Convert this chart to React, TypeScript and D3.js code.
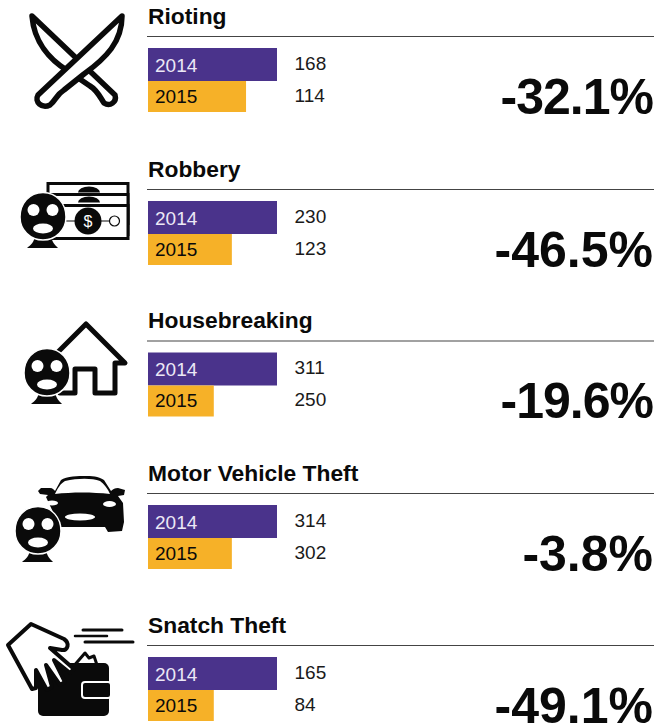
import React from "react";
import * as d3 from "d3";

const categories = ["Rioting", "Robbery", "Housebreaking", "Motor Vehicle Theft", "Snatch Theft"];
const years = ["2014", "2015"];
const values2014 = [168, 230, 311, 314, 165];
const values2015 = [114, 123, 250, 302, 84];
// The reference's bars are not drawn proportionally to their labels: lengths, in percent of the 2014 bar.
const barLength2014 = [100, 100, 100, 100, 100];
const barLength2015 = [76, 65, 51, 65, 51];
const changes = ["-32.1%", "-46.5%", "-19.6%", "-3.8%", "-49.1%"];
const ruleYs = [36.5, 189.5, 341, 493.5, 645.5];
const changeTracking = [-1, 0, -1, 0, 0];

const PURPLE = "#4a338b";
const ORANGE = "#f6b128";
const INK = "#0a0a0a";
const FONT = "'Liberation Sans', Arial, sans-serif";

const Mask = ({ x, y }: { x: number; y: number }) => (
  <g transform={`translate(${x},${y})`}>
    <path d="M-16,32 C-12,29 -9,26 -8,20 L8,20 C9,26 12,29 15,32 Z" fill={INK} />
    <path d="M0,-23.5 C14,-23.5 23,-12 23,1 C23,14 13,24 0,24 C-13,24 -23,14 -23,1 C-23,-12 -14,-23.5 0,-23.5 Z" fill={INK} stroke="#fff" strokeWidth={1.5} />
    <circle cx={-9.5} cy={-6} r={6} fill="#fff" />
    <circle cx={9.5} cy={-6} r={6} fill="#fff" />
    <ellipse cx={0} cy={12.5} rx={10} ry={5} fill="#fff" />
  </g>
);

const Knives = () => (
  <g fill="#fff" stroke={INK} strokeWidth={5.5} strokeLinejoin="round" strokeLinecap="round">
    <path d="M32,16 L115,95 C117,102 110,107 104,103 C100,97 97,90 90,86 L68,71 C50,60 34,42 32,16 Z" />
    <path d="M122,16 L38,95 C34,102 42,109 50,105 C56,100 56,95 64,90 L84,74 C106,58 122,42 122,16 Z" />
  </g>
);

const Money = () => (
  <g>
    <g fill="#fff" stroke={INK} strokeWidth={3}>
      <rect x={48} y={183.5} width={80} height={40} />
      <rect x={48} y={194.5} width={80} height={40} />
      <rect x={48} y={205.5} width={80} height={33} />
    </g>
    <path d="M78,192.5 A11,6 0 0 1 100,192.5 Z M78,202.5 A11,6 0 0 1 100,202.5 Z" fill={INK} />
    <line x1={60} x2={110} y1={221} y2={221} stroke={INK} strokeWidth={1.2} />
    <circle cx={88} cy={221} r={13.5} fill={INK} />
    <circle cx={114.5} cy={221} r={5} fill="#fff" stroke={INK} strokeWidth={1.2} />
    <text x={88} y={227} textAnchor="middle" fontSize={16} fontFamily={FONT} fill="#fff">$</text>
    <Mask x={43} y={216} />
  </g>
);

const House = () => (
  <g>
    <path d="M58,352 L86,324 L125,363 L115,363 L115,393 L95,393 L95,369 L75,369 L75,393 L60,393"
      fill="#fff" stroke={INK} strokeWidth={5} strokeLinejoin="round" strokeLinecap="round" />
    <Mask x={47} y={372} />
  </g>
);

const Car = () => (
  <g>
    <path d="M41,488 L50,488 C53,488 54,490 55,491 L61,480 C66,476 80,476 84,476 C92,476 98,476 104,480 L111,491 C113,489 115,488 118,488 L125,490 L124,495 L118,496 L123,503 L124,522 L122,531 L108,532 L105,527 L60,527 L46,497 L48,495 L40,494 L38,491 Z" fill={INK} />
    <path d="M55,494 C58,488 60,484 65,481 C78,478 92,478 100,481 C104,484 108,489 110,494 C92,492 72,492 55,494 Z" fill="#fff" />
    <ellipse cx={109.5} cy={504} rx={6.5} ry={3} fill="#fff" />
    <ellipse cx={52} cy={503} rx={6} ry={2.5} fill="#fff" />
    <ellipse cx={80} cy={517} rx={15} ry={3.5} fill="#fff" />
    <Mask x={38} y={530} />
  </g>
);

const Wallet = () => (
  <g>
    <path d="M72,668 L85,653 L89,658 L94,656 L97,665 Z" fill="#fff" stroke={INK} strokeWidth={3} strokeLinejoin="round" />
    <rect x={38} y={663} width={71} height={53} rx={5} fill={INK} />
    <rect x={82} y={682} width={29} height={16} rx={3} fill={INK} stroke="#fff" strokeWidth={2} />
    <path d="M8,645 L31,624 L64,639 C70,643 68,651 62,650 L50,648 L74,669 L70,673 L54,660 L65,682 L60,685 L46,665 L52,687 L47,690 L36,670 L36,688 L32,689 Z"
      fill="#fff" stroke={INK} strokeWidth={4} strokeLinejoin="round" />
    <g stroke={INK} strokeLinecap="round">
      <line x1={83} x2={122} y1={630} y2={630} strokeWidth={3} />
      <line x1={75} x2={107} y1={636} y2={636} strokeWidth={2.5} />
      <line x1={85} x2={133} y1={642} y2={642} strokeWidth={3} />
    </g>
  </g>
);

const icons = [<Knives />, <Money />, <House />, <Car />, <Wallet />];

export default function App() {
  const x = d3.scaleLinear().domain([0, 100]).range([148, 277]);
  const rows = categories.map((name, i) => ({
    name,
    rule: ruleYs[i],
    change: changes[i],
    tracking: changeTracking[i],
    bars: [
      { year: years[0], value: values2014[i], length: barLength2014[i], fill: PURPLE, label: "#ece8f6", top: 11.5, h: 33, vy: 35 },
      { year: years[1], value: values2015[i], length: barLength2015[i], fill: ORANGE, label: INK, top: 44.5, h: 31, vy: 66 },
    ],
  }));
  return (
    <svg width={657} height={728} viewBox="0 0 657 728"
      style={{ position: "absolute", left: 0, top: 0, display: "block" }} fontFamily={FONT}>
      {icons.map((icon, i) => <g key={i}>{icon}</g>)}
      {rows.map((r) => (
        <g key={r.name}>
          <text x={148} y={r.rule - 13} fontSize={22.8} fontWeight={700} fill={INK}>{r.name}</text>
          <line x1={147} x2={654} y1={r.rule} y2={r.rule} stroke="#444" strokeWidth={1.2} />
          {r.bars.map((b) => (
            <g key={b.year}>
              <rect x={x(0)} y={r.rule + b.top} width={x(b.length) - x(0)} height={b.h} fill={b.fill} />
              <text x={155} y={r.rule + b.vy} fontSize={19} fill={b.label}>{b.year}</text>
              <text x={294.5} y={r.rule + b.vy - (b.year === "2015" ? 1 : 2)} fontSize={19} fill="#1a1a1a">{b.value}</text>
            </g>
          ))}
          <text x={653} y={r.rule + 77} textAnchor="end" fontSize={50} fontWeight={700} fill={INK} letterSpacing={r.tracking}>{r.change}</text>
        </g>
      ))}
    </svg>
  );
}
